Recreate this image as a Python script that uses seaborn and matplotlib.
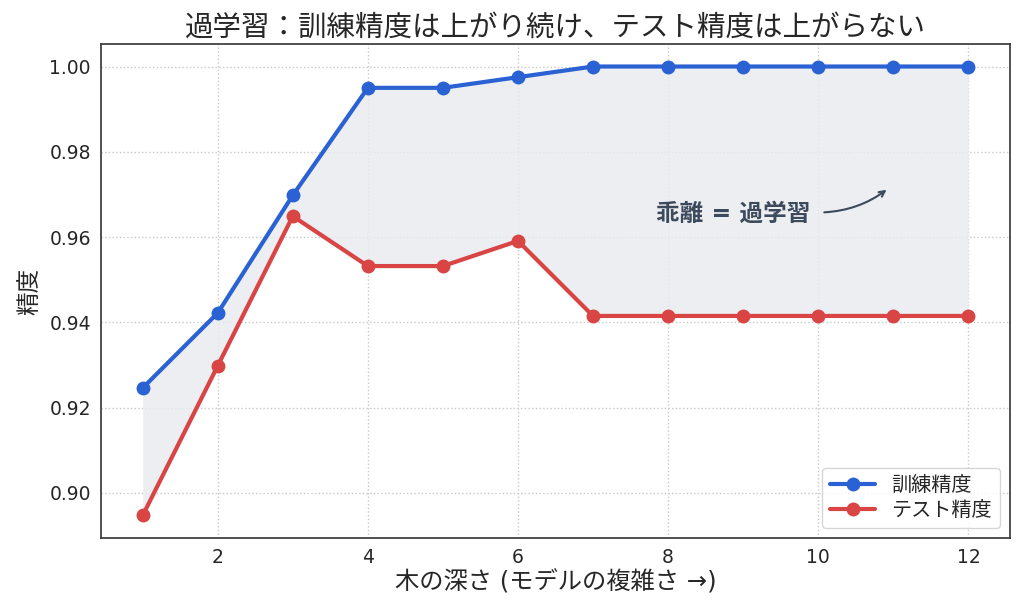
import matplotlib
matplotlib.use('Agg')
import matplotlib.pyplot as plt
import seaborn as sns
import pandas as pd

sns.set_style('whitegrid')
plt.rcParams['font.family'] = ['DejaVu Sans', 'Noto Sans CJK JP']

# data
depth = [1, 2, 3, 4, 5, 6, 7, 8, 9, 10, 11, 12]
train_acc = [0.9246, 0.9422, 0.9698, 0.9950, 0.9950, 0.9975, 1.0, 1.0, 1.0, 1.0, 1.0, 1.0]
test_acc = [0.8947, 0.9298, 0.9649, 0.9532, 0.9532, 0.9591, 0.9415, 0.9415, 0.9415, 0.9415, 0.9415, 0.9415]
series_names = ['訓練精度', 'テスト精度']

df = pd.DataFrame({'depth': depth, series_names[0]: train_acc, series_names[1]: test_acc})
long = df.melt(id_vars='depth', var_name='kind', value_name='acc')

fig = plt.figure(figsize=(10.24, 6.12), dpi=100)
ax = fig.add_axes([0.099, 0.121, 0.887, 0.807])

ax.fill_between(df['depth'], df[series_names[1]], df[series_names[0]],
                color='#e9ecf0', alpha=0.85, zorder=1, linewidth=0)

sns.lineplot(data=long, x='depth', y='acc', hue='kind', ax=ax,
             palette=['#2a62d4', '#d94444'], marker='o', markersize=10,
             markeredgewidth=0, linewidth=3, zorder=3)

ax.grid(True, linestyle=':', color='#c8c8c8', linewidth=1)
for s in ax.spines.values():
    s.set_color('#333333')
    s.set_linewidth(1.2)
ax.tick_params(axis='both', labelsize=13.5, length=4, color='#333333', direction='out')
ax.set_yticks([0.90, 0.92, 0.94, 0.96, 0.98, 1.00])
ax.set_yticklabels([f'{v:.2f}' for v in [0.90, 0.92, 0.94, 0.96, 0.98, 1.00]])
ax.set_xticks([2, 4, 6, 8, 10, 12])

ax.set_title('過学習：訓練精度は上がり続け、テスト精度は上がらない',
             fontsize=20.5, pad=6)
ax.set_xlabel('木の深さ (モデルの複雑さ →)', fontsize=17.5, labelpad=2)
ax.set_ylabel('精度', fontsize=17, labelpad=6)

# gap label + curved arrow
ax.text(7.84, 0.9655, '乖離 = 過学習', fontsize=17, fontweight='semibold',
        color='#3d4a5c', va='center', ha='left')
ax.annotate('', xy=(10.91, 0.9711), xytext=(10.08, 0.9658),
            arrowprops=dict(arrowstyle='->', color='#3d4a5c', lw=1.5,
                            connectionstyle='arc3,rad=0.15',
                            shrinkA=0, shrinkB=0))

leg = ax.legend(title=None, loc='lower right', fontsize=14.5, frameon=True,
                handlelength=2.2, borderpad=0.4, labelspacing=0.3)
leg.get_frame().set_edgecolor('#cccccc')

fig.savefig('out.png', dpi=100)
